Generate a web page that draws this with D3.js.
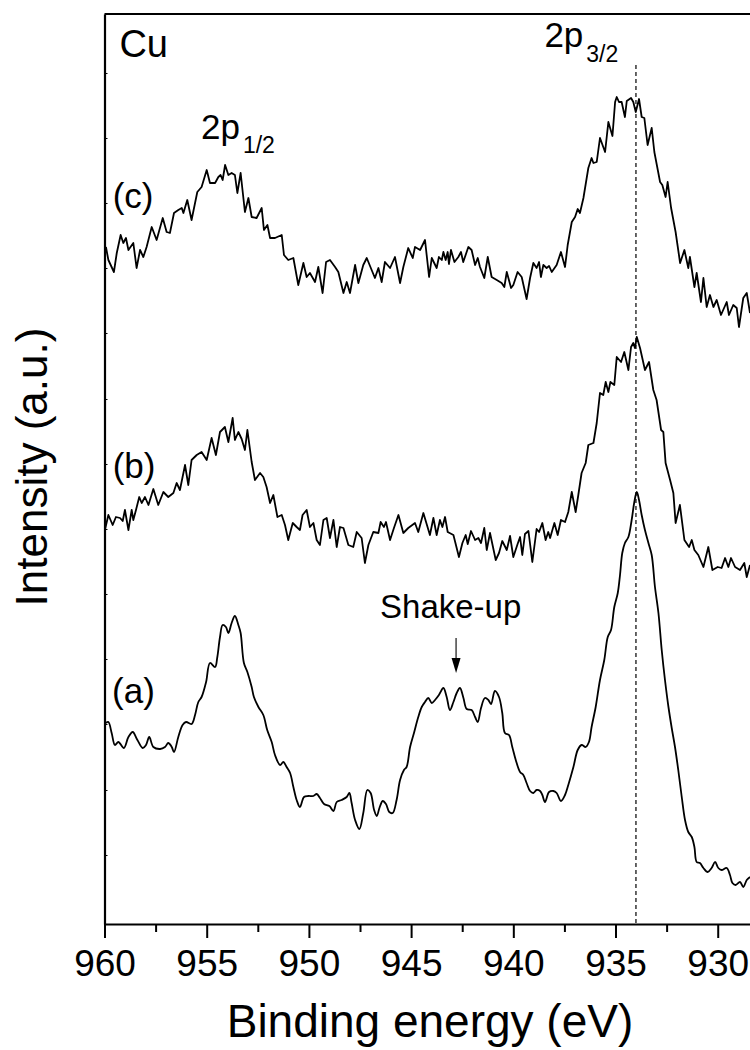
<!DOCTYPE html>
<html><head><meta charset="utf-8">
<script src="https://cdn.jsdelivr.net/npm/d3@7"></script>
<style>body{margin:0;background:#fff} text{font-family:"Liberation Sans",Arial,Helvetica,sans-serif;fill:#000}</style>
</head><body><svg id="chart" width="750" height="1050"></svg>
<script>
// ---- data ----
const xTicks = [960, 955, 950, 945, 940, 935, 930];
const xMinorTicks = [957.5, 952.5, 947.5, 942.5, 937.5, 932.5];
const yTicks = [65, 130, 196, 261, 326, 391, 456, 521, 587, 652, 717, 782, 847];
const xDomain = [960, 928];
const yDomain = [-4, 906];

const seriesC = [[959.93,673],[959.81,660],[959.54,648],[959.40,667],[959.21,685],[959.08,677],[958.95,682],[958.83,670],[958.59,677],[958.43,652],[958.26,670],[958.10,663],[957.94,673],[957.69,693],[957.45,680],[957.15,702],[956.96,688],[956.80,687],[956.60,707],[956.39,710],[956.22,712],[956.14,707],[955.95,720],[955.74,700],[955.46,728],[955.25,733],[955.00,750],[954.84,737],[954.59,737],[954.43,743],[954.32,745],[954.22,740],[954.10,755],[953.94,745],[953.78,747],[953.62,745],[953.50,727],[953.34,747],[953.13,708],[952.96,722],[952.80,703],[952.56,702],[952.31,712],[952.20,690],[952.03,695],[951.90,682],[951.66,682],[951.33,685],[951.22,665],[951.01,660],[950.76,662],[950.52,635],[950.27,657],[950.11,643],[949.95,647],[949.70,638],[949.54,653],[949.33,627],[949.16,658],[948.97,660],[948.72,653],[948.56,648],[948.31,627],[948.15,638],[947.99,627],[947.74,655],[947.58,637],[947.34,655],[947.17,662],[946.93,650],[946.77,642],[946.60,652],[946.44,638],[946.28,658],[946.03,652],[945.79,663],[945.54,637],[945.38,653],[945.14,672],[944.92,662],[944.81,673],[944.56,670],[944.32,680],
[944.12,643],[943.99,662],[943.75,652],[943.64,663],[943.50,660],[943.42,668],[943.31,660],[943.21,668],[943.15,656],[943.05,670],[942.88,658],[942.69,663],[942.56,668],[942.45,658],[942.20,673],[942.04,670],[941.87,655],[941.74,662],[941.63,653],[941.42,642],[941.25,663],[941.06,643],[940.81,640],[940.57,637],[940.44,633],[940.32,648],[940.11,632],[940.00,635],[939.79,648],[939.59,643],[939.35,621],[939.18,642],[939.02,657],[938.86,652],[938.74,658],[938.65,643],[938.53,655],[938.37,652],[938.25,654],[938.12,648],[937.88,655],[937.67,668],[937.47,653],[937.34,675],[937.14,698],[936.98,703],[936.85,711],[936.74,707],[936.57,722],[936.33,752],[936.17,762],[936.08,757],[935.92,758],[935.76,782],[935.51,768],[935.35,798],[935.15,784],[935.02,818],[934.94,823],[934.83,818],[934.70,818],[934.54,803],[934.45,819],[934.24,822],[934.13,818],[934.01,808],[933.85,821],[933.72,803],[933.59,802],[933.43,775],[933.23,792],[933.10,768],[932.82,738],[932.71,735],[932.55,723],[932.45,738],[932.28,712],[932.06,688],[931.84,657],[931.63,670],[931.44,652],[931.36,663],[931.14,633],[931.03,647],[930.82,618],[930.70,642],[930.54,613],[930.38,625],[930.21,613],[930.05,620],[929.84,605],[929.56,618],[929.45,605],[929.24,615],[929.07,612],[928.96,593],[928.75,622],[928.58,627],[928.42,607]];

const seriesB = [[959.98,390],[959.81,405],[959.60,395],[959.44,403],[959.24,402],[959.11,399],[959.00,410],[958.83,390],[958.67,410],[958.59,400],[958.46,410],[958.30,423],[958.18,417],[958.02,423],[957.85,415],[957.61,431],[957.37,415],[957.12,428],[956.88,423],[956.63,427],[956.47,437],[956.31,430],[956.06,455],[955.90,435],[955.74,460],[955.49,465],[955.25,468],[955.00,460],[954.76,482],[954.55,465],[954.35,488],[954.11,493],[953.94,478],[953.73,502],[953.62,480],[953.45,488],[953.29,481],[953.13,470],[953.01,490],[952.80,458],[952.64,440],[952.39,447],[952.23,443],[952.07,433],[951.90,417],[951.74,425],[951.54,403],[951.33,405],[951.17,395],[951.01,380],[950.79,397],[950.60,393],[950.44,390],[950.31,405],[950.11,410],[949.95,393],[949.78,397],[949.62,380],[949.46,375],[949.29,400],[949.13,402],[948.97,382],[948.80,400],[948.64,373],[948.48,393],[948.31,392],[948.07,375],[947.83,373],[947.66,388],[947.42,382],[947.26,357],[947.09,375],[946.85,388],[946.60,387],[946.49,398],[946.33,393],[946.23,398],[946.03,380],[945.84,392],[945.62,405],[945.38,387],[945.14,392],[944.81,397],[944.65,388],[944.40,407],
[944.08,385],[943.91,402],[943.75,385],[943.59,400],[943.47,393],[943.34,403],[943.21,388],[942.93,385],[942.66,363],[942.49,377],[942.33,385],[942.23,376],[942.07,389],[941.87,380],[941.71,382],[941.58,377],[941.42,392],[941.30,370],[941.14,387],[940.86,360],[940.70,367],[940.54,379],[940.32,370],[940.16,384],[940.00,363],[939.79,376],[939.67,383],[939.56,365],[939.43,386],[939.26,389],[939.07,358],[938.86,391],[938.74,388],[938.58,397],[938.42,380],[938.29,388],[938.20,382],[937.99,397],[937.83,385],[937.67,400],[937.47,398],[937.31,408],[937.14,428],[936.95,408],[936.82,425],[936.66,447],[936.46,457],[936.33,475],[936.08,477],[935.92,497],[935.76,527],[935.60,525],[935.48,538],[935.35,528],[935.25,538],[935.06,535],[934.94,563],[934.73,558],[934.57,568],[934.37,550],[934.24,573],[934.13,577],[934.05,572],[933.96,583],[933.80,572],[933.56,550],[933.36,558],[933.15,530],[932.99,520],[932.77,490],[932.66,488],[932.55,457],[932.33,440],[932.17,427],[932.06,397],[931.85,415],[931.63,380],[931.40,373],[931.27,380],[931.14,370],[930.95,365],[930.70,353],[930.46,373],[930.26,350],[930.00,353],[929.81,352],[929.64,362],[929.48,353],[929.35,362],[929.15,353],[928.91,350],[928.70,357],[928.58,343],[928.42,355]];

const seriesA = [[959.93,197],[959.81,198],[959.65,187],[959.49,175],[959.32,178],[959.05,172],[958.83,183],[958.62,188],[958.39,180],[958.13,172],[957.97,175],[957.81,183],[957.61,173],[957.28,171],[957.04,173],[956.88,177],[956.71,173],[956.60,168],[956.39,183],[956.18,195],[956.01,198],[955.74,196],[955.57,205],[955.41,218],[955.25,223],[955.03,238],[954.84,257],[954.59,253],[954.48,263],[954.35,283],[954.22,295],[954.06,293],[953.94,287],[953.78,297],[953.62,304],[953.45,295],[953.34,287],[953.18,257],[953.01,248],[952.80,233],[952.69,223],[952.47,213],[952.23,205],[952.04,190],[951.82,178],[951.66,165],[951.41,155],[951.25,158],[951.09,153],[950.92,147],[950.76,133],[950.60,120],[950.44,113],[950.24,123],[950.03,124],[949.78,124],[949.62,126],[949.46,122],[949.26,116],[949.00,114],[948.80,109],[948.64,118],[948.40,120],[948.15,123],[948.02,127],[947.91,117],[947.74,100],[947.53,91],[947.34,107],[947.14,130],[946.98,127],[946.81,110],[946.68,104],[946.55,112],[946.39,119],[946.23,116],[946.07,108],[945.90,107],[945.71,120],[945.54,140],[945.35,150],[945.22,153],[945.05,173],[944.86,187],[944.65,203],[944.48,213],[944.32,218],
[944.16,222],[943.99,217],[943.83,220],[943.64,225],[943.42,232],[943.26,223],[943.10,210],[942.93,218],[942.77,227],[942.61,232],[942.44,222],[942.28,211],[942.04,210],[941.87,203],[941.74,198],[941.58,212],[941.39,222],[941.22,220],[941.09,216],[940.90,229],[940.70,223],[940.54,207],[940.41,187],[940.21,185],[940.05,173],[939.88,160],[939.67,148],[939.51,145],[939.35,137],[939.18,129],[939.02,127],[938.86,130],[938.69,129],[938.58,125],[938.45,118],[938.25,128],[938.04,129],[937.88,127],[937.67,119],[937.47,125],[937.31,135],[937.06,153],[936.85,170],[936.66,175],[936.46,173],[936.30,178],[936.17,193],[935.97,213],[935.76,240],[935.55,260],[935.38,283],[935.22,290],[935.06,313],[934.89,327],[934.78,345],[934.67,367],[934.54,377],[934.37,383],[934.21,400],[934.08,418],[933.96,428],[933.85,420],[933.72,405],[933.56,390],[933.39,377],[933.23,365],[933.07,333],[932.90,307],[932.74,270],[932.58,240],[932.41,213],[932.25,192],[932.09,173],[931.93,150],[931.76,123],[931.60,100],[931.44,88],[931.27,83],[931.14,73],[931.03,58],[930.87,57],[930.70,52],[930.49,48],[930.30,52],[930.13,58],[929.97,52],[929.81,50],[929.56,52],[929.40,45],[929.28,37],[929.12,35],[928.91,38],[928.75,33],[928.58,40],[928.42,43]];

const peakEnergy = 934.0;          // dashed reference line (2p3/2)
const peakLineTop = 855;
const shakeUpArrow = {e: 942.8, from: 282, to: 247};
const curveLabels = [
  {text: "(c)", e: 959.6, i: 712},
  {text: "(b)", e: 959.6, i: 442},
  {text: "(a)", e: 959.63, i: 217}
];

// ---- drawing ----
const svg = d3.select("#chart");
const x = d3.scaleLinear().domain(xDomain).range([104.5, 758.6]);
const y = d3.scaleLinear().domain(yDomain).range([924, 14]);

svg.append("defs").append("clipPath").attr("id","clip")
  .append("rect").attr("x",x(960)).attr("y",y(906)).attr("width",x(928)-x(960)).attr("height",y(-4)-y(906));

// top frame line
svg.append("line").attr("x1",x(960)).attr("x2",x(928)).attr("y1",y(906)).attr("y2",y(906))
  .attr("stroke","#000").attr("stroke-width",2);

// dashed peak line
svg.append("line").attr("x1",x(peakEnergy)).attr("x2",x(peakEnergy))
  .attr("y1",y(peakLineTop)).attr("y2",y(-4))
  .attr("stroke","#000").attr("stroke-width",1.2).attr("stroke-dasharray","4,3");

const lineGen = d3.line().x(d=>x(d[0])).y(d=>y(d[1]));
const g = svg.append("g").attr("clip-path","url(#clip)");
[seriesA, seriesB, seriesC].forEach((s,k)=>{
  g.append("path").datum(s)
   .attr("d", (k===0 ? lineGen.curve(d3.curveCatmullRom.alpha(0.5)) : lineGen.curve(d3.curveLinear))(s))
   .attr("fill","none").attr("stroke","#000").attr("stroke-width",1.8).attr("stroke-linejoin","round");
});

// x axis
const xAxis = svg.append("g").attr("transform",`translate(0,${y(-4)})`)
  .call(d3.axisBottom(x).tickValues(xTicks).tickSize(14).tickSizeOuter(0).tickPadding(12).tickFormat(d3.format("d")));
xAxis.select(".domain").attr("stroke-width",2.2);
xAxis.selectAll(".tick line").attr("stroke-width",2);
xAxis.selectAll(".tick text").style("font-size","37px").style("font-family","'Liberation Sans',Arial,sans-serif").attr("fill","#000");
const xMinor = svg.append("g").attr("transform",`translate(0,${y(-4)})`)
  .call(d3.axisBottom(x).tickValues(xMinorTicks).tickSize(8).tickSizeOuter(0).tickFormat(""));
xMinor.select(".domain").remove();
xMinor.selectAll(".tick line").attr("stroke-width",2);

// y axis (inward ticks, no labels)
const yAxis = svg.append("g").attr("transform",`translate(${x(960)},0)`)
  .call(d3.axisLeft(y).tickValues(yTicks).tickSize(-3).tickSizeOuter(0).tickFormat(""));
yAxis.select(".domain").attr("stroke-width",2.2);
yAxis.selectAll(".tick line").attr("stroke-width",1);

// axis titles
svg.append("text").attr("x",430).attr("y",1037).attr("text-anchor","middle")
  .style("font-size","46px").text("Binding energy (eV)");
svg.append("text").attr("transform","translate(47,467) rotate(-90)").attr("text-anchor","middle")
  .style("font-size","44px").text("Intensity (a.u.)");

// annotations
svg.append("text").attr("x",x(959.27)).attr("y",y(863)).style("font-size","38px").text("Cu");
curveLabels.forEach(l=>{
  svg.append("text").attr("x",x(l.e)).attr("y",y(l.i)).style("font-size","35px").text(l.text);
});
function peakLabel(e,i,sub,dy){
  const t = svg.append("text").attr("x",x(e)).attr("y",y(i)).style("font-size","35px");
  t.append("tspan").text("2p");
  t.append("tspan").attr("dx",3).attr("dy",dy).style("font-size","23px").text(sub);
}
peakLabel(955.28, 781, "1/2", 14);
peakLabel(938.48, 873, "3/2", 15);

svg.append("text").attr("x",x(946.52)).attr("y",y(302)).style("font-size","33px").text("Shake-up");
const ax = x(shakeUpArrow.e), ay1 = y(shakeUpArrow.from), ay2 = y(shakeUpArrow.to);
svg.append("line").attr("x1",ax).attr("x2",ax).attr("y1",ay1).attr("y2",ay2-12)
  .attr("stroke","#444").attr("stroke-width",1.5);
svg.append("path").attr("d",`M${ax-4.5},${ay2-15}L${ax+4.5},${ay2-15}L${ax},${ay2}Z`).attr("fill","#000");
</script></body></html>
